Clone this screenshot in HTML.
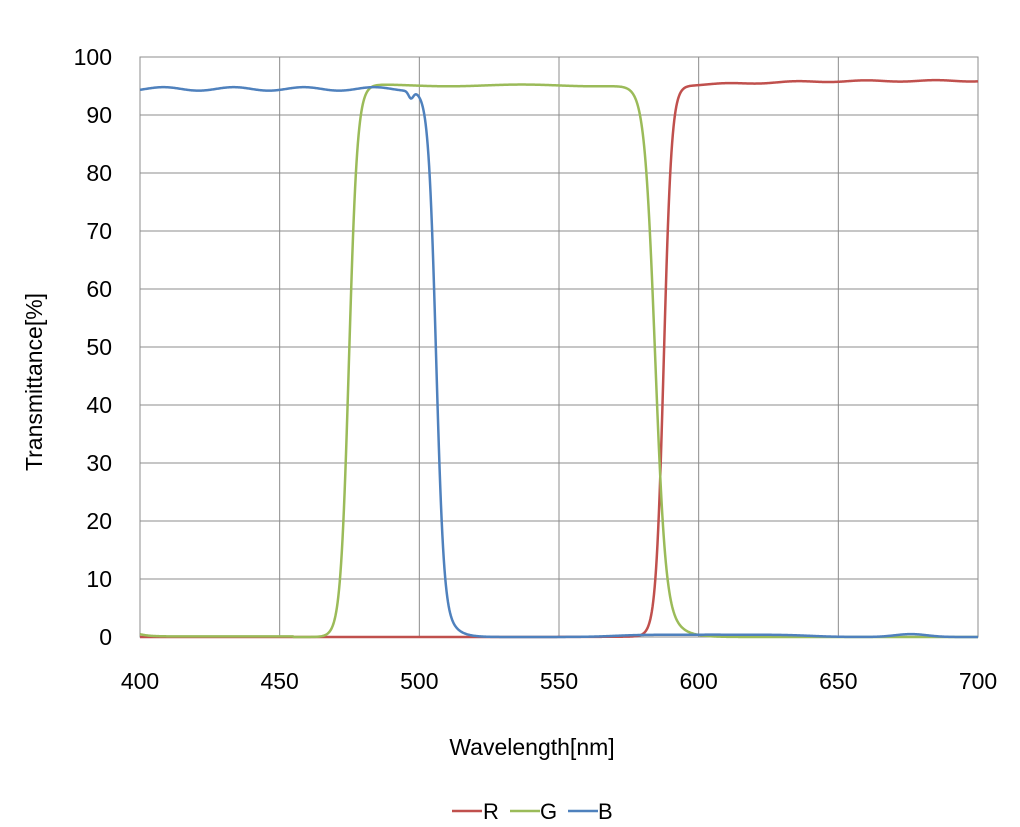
<!DOCTYPE html>
<html><head><meta charset="utf-8"><style>
html,body{margin:0;padding:0;background:#fff;}
svg text{font-family:"Liberation Sans","Noto Sans CJK JP",sans-serif;fill:#000;}
</style></head><body>
<svg id="s" width="1020" height="822" xmlns="http://www.w3.org/2000/svg">
<rect x="0" y="0" width="1020" height="822" fill="#fff"/>
<g id="grid" stroke="#8c8c8c" stroke-width="1"></g>
<rect x="140" y="57" width="838" height="580" fill="none" stroke="#8c8c8c" stroke-width="1"/>
<g id="ticks" font-size="23"></g>
<text x="532" y="755" font-size="23" text-anchor="middle">Wavelength[nm]</text>
<text transform="translate(42,382) rotate(-90)" font-size="23" text-anchor="middle">Transmittance[%]</text>
<path id="pR" fill="none" stroke="#c0504d" stroke-width="2.5"/>
<path id="pG" fill="none" stroke="#9bbb59" stroke-width="2.5"/>
<path id="pB" fill="none" stroke="#4f81bd" stroke-width="2.5"/>
<line x1="452" y1="811" x2="482" y2="811" stroke="#c0504d" stroke-width="2.5"/>
<text x="483" y="819" font-size="22">R</text>
<line x1="510" y1="811" x2="540" y2="811" stroke="#9bbb59" stroke-width="2.5"/>
<text x="540" y="819" font-size="22">G</text>
<line x1="568" y1="811" x2="598" y2="811" stroke="#4f81bd" stroke-width="2.5"/>
<text x="598" y="819" font-size="22">B</text>
</svg>
<script>
var NS="http://www.w3.org/2000/svg";
function X(n){return 140+(n-400)*838/300;}
function Y(v){return 637-v*5.8;}
var g=document.getElementById('grid'),t=document.getElementById('ticks');
for(var v=0;v<=100;v+=10){
 if(v>0&&v<100){var l=document.createElementNS(NS,'line');l.setAttribute('x1',140);l.setAttribute('x2',978);l.setAttribute('y1',Y(v));l.setAttribute('y2',Y(v));g.appendChild(l);}
 var tx=document.createElementNS(NS,'text');tx.setAttribute('x',112);tx.setAttribute('y',Y(v)+8);tx.setAttribute('text-anchor','end');tx.textContent=v;t.appendChild(tx);
}
for(var n=400;n<=700;n+=50){
 if(n>400&&n<700){var l=document.createElementNS(NS,'line');l.setAttribute('y1',57);l.setAttribute('y2',637);l.setAttribute('x1',X(n));l.setAttribute('x2',X(n));g.appendChild(l);}
 var tx=document.createElementNS(NS,'text');tx.setAttribute('x',X(n));tx.setAttribute('y',689);tx.setAttribute('text-anchor','middle');tx.textContent=n;t.appendChild(tx);
}
function sig(z){return 1/(1+Math.exp(-z));}
function R(x){return 95.0*sig((x-587.5)/1.4)+0.9*sig((x-615)/15)+0.12*Math.sin(x*0.25)*sig((x-595)/2);}
function G(x){var b=95.1+0.15*Math.sin(x*0.12);
 var v=b*sig((x-474.8)/1.5)*(0.97*sig(-(x-584.4)/1.9)+0.03*sig(-(x-592)/4));
 if(x<455)v+=0.4*Math.exp(-(x-400)/3)+0.1; return v;}
function B(x){var b=94.5+0.3*Math.sin(x*0.25)-1.2*Math.exp(-Math.pow((x-497)/1.2,2));
 var v=b*(0.97*sig(-(x-506)/1.4)+0.03*sig(-(x-512)/3))+0.4*sig((x-570)/5)-0.4*sig((x-640)/5)+0.5*Math.exp(-Math.pow((x-676)/8,2));
 return v;}
function path(f){var d='';for(var x=400;x<=700;x+=0.25){var v=Math.max(0,f(x));d+=(d?'L':'M')+X(x).toFixed(2)+','+Y(v).toFixed(2);}return d;}
document.getElementById('pR').setAttribute('d',path(R));
document.getElementById('pG').setAttribute('d',path(G));
document.getElementById('pB').setAttribute('d',path(B));
</script>
</body></html>
